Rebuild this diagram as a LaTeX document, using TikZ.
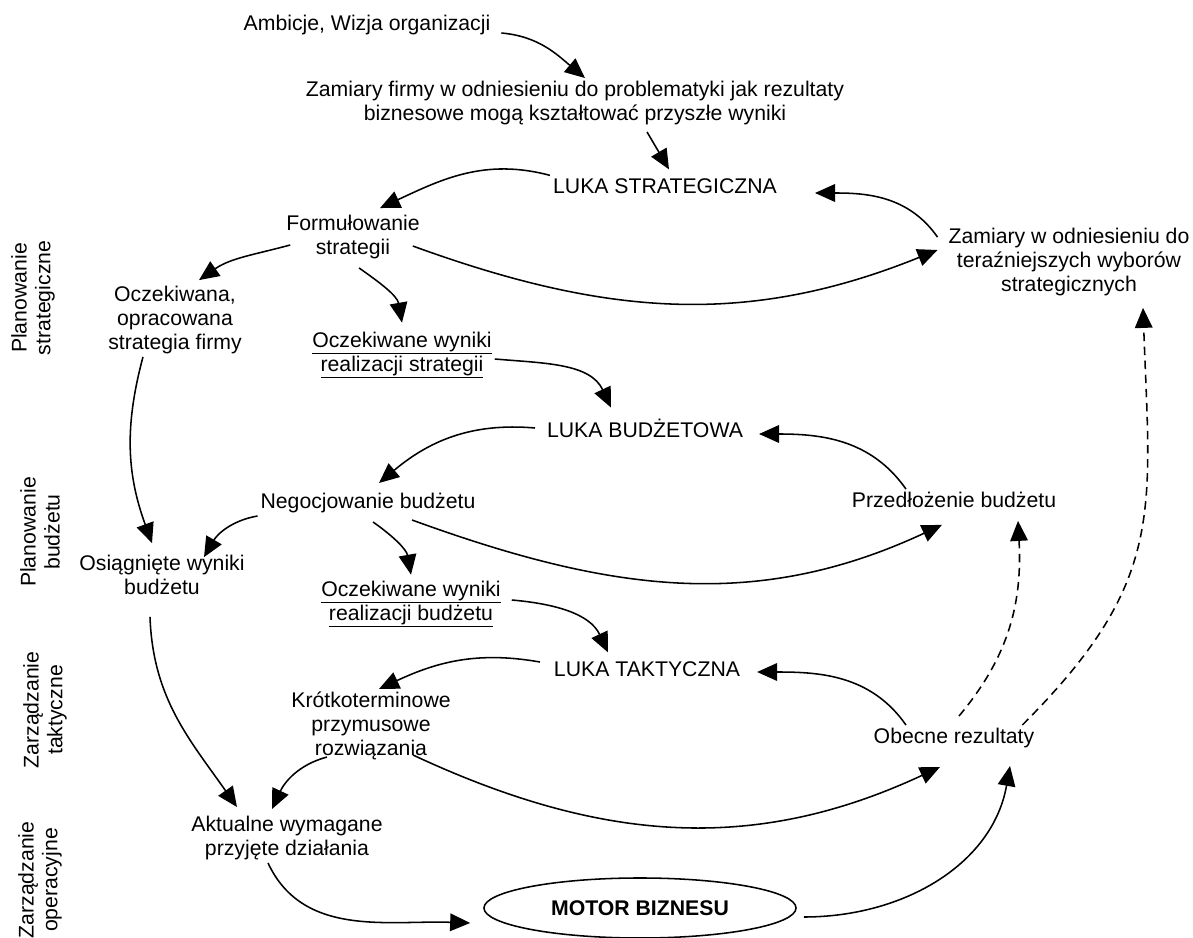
\documentclass[tikz,border=0pt]{standalone}
\usepackage{fontspec}
\setmainfont{Liberation Sans}
\usepackage{tikz}
\usetikzlibrary{shapes.geometric}
\usetikzlibrary{arrows.meta}

\begin{document}
\begin{tikzpicture}[
x=0.025cm, y=0.025cm,
every node/.style={font=\fontsize{15.1}{17}\selectfont},
plaintext/.style={align=center, inner sep=2pt},
sidelabel/.style={align=center, inner sep=2pt, rotate=90},
enginenode/.style={ellipse, draw=black, line width=1.1pt, minimum width=7.8cm, minimum height=1.5cm, inner sep=0pt, font=\fontsize{15.1}{17}\selectfont\bfseries},
link/.style={-{Triangle[length=5mm,width=4.4mm]}, line width=1.1pt},
dashedlink/.style={link, dash pattern=on 6pt off 4pt},
]
\useasboundingbox (0,0) rectangle (1193,-938);

%Nodes
\node[plaintext] (ambicje) at (367,-25) {Ambicje, Wizja organizacji};
\node[plaintext] (zamfirmy) at (575,-103) {Zamiary firmy w odniesieniu do problematyki jak rezultaty\\biznesowe mogą kształtować przyszłe wyniki};
\node[plaintext] (lukastrat) at (665,-186) {LUKA STRATEGICZNA};
\node[plaintext] (formulowanie) at (353,-237) {Formułowanie\\strategii};
\node[plaintext] (zamodn) at (1069,-262) {Zamiary w odniesieniu do\\teraźniejszych wyborów\\strategicznych};
\node[plaintext] (oczekiwana) at (175,-320) {Oczekiwana,\\opracowana\\strategia firmy};
\node[plaintext] (ocstrategii) at (402,-355) {\underline{Oczekiwane wyniki}\\\underline{realizacji strategii}};
\node[plaintext] (lukabudzet) at (645,-428) {LUKA BUDŻETOWA};
\node[plaintext] (negocjowanie) at (368,-503) {Negocjowanie budżetu};
\node[plaintext] (przedlozenie) at (954,-500) {Przedłożenie budżetu};
\node[plaintext] (osiagniete) at (162,-575) {Osiągnięte wyniki\\budżetu};
\node[plaintext] (ocbudzetu) at (411,-604) {\underline{Oczekiwane wyniki}\\\underline{realizacji budżetu}};
\node[plaintext] (lukataktyczna) at (647,-669) {LUKA TAKTYCZNA};
\node[plaintext] (krotkoterm) at (371,-726) {Krótkoterminowe\\przymusowe\\rozwiązania};
\node[plaintext] (obecne) at (954,-738) {Obecne rezultaty};
\node[plaintext] (aktualne) at (287,-838) {Aktualne wymagane\\przyjęte działania};
\node[enginenode] (motor) at (640,-908) {MOTOR BIZNESU};

\node[sidelabel] (planstrat) at (33,-298) {Planowanie\\strategiczne};
\node[sidelabel] (planbud) at (40,-532) {Planowanie\\budżetu};
\node[sidelabel] (zarztakt) at (45,-710) {Zarządzanie\\taktyczne};
\node[sidelabel] (zarzoper) at (40,-880) {Zarządzanie\\operacyjne};

%Lines
\draw[link] ([xshift=2mm,yshift=-2mm]ambicje.east) to[out=-5,in=140] ([xshift=2.5mm]zamfirmy.north);
\draw[link] ([xshift=18mm,yshift=-1mm]zamfirmy.south) -- ([xshift=1mm,yshift=1.5mm]lukastrat.north);
\draw[link] (lukastrat.north west) to[out=165,in=25] ([xshift=6.75mm,yshift=1mm]formulowanie.north);
\draw[link] ([xshift=-2mm,yshift=-3mm]zamodn.north west) to[out=125,in=0] ([xshift=8.75mm,yshift=-1.75mm]lukastrat.east);
\draw[link] ([xshift=-2.5mm,yshift=-2.25mm]formulowanie.east) to[out=-20,in=202] ([xshift=-2mm,yshift=3mm]zamodn.west);
\draw[link] ([xshift=1.75mm,yshift=-2mm]formulowanie.west) to[out=195,in=35] ([xshift=6mm,yshift=0.75mm]oczekiwana.north);
\draw[link] ([xshift=1.5mm,yshift=-1.5mm]formulowanie.south) to[out=-35,in=100] ([yshift=1.5mm]ocstrategii.north);
\draw[link] ([yshift=-1mm]ocstrategii.east) to[out=-5,in=115] ([xshift=-8.5mm,yshift=2mm]lukabudzet.north);
\draw[link] ([xshift=-2.25mm]lukabudzet.west) to[out=175,in=40] ([xshift=2.75mm,yshift=1.75mm]negocjowanie.north);
\draw[link] ([xshift=-12mm]przedlozenie.north) to[out=125,in=0] ([xshift=3.25mm,yshift=-1.5mm]lukabudzet.east);
\draw[link] ([xshift=11mm,yshift=-1mm]negocjowanie.south) to[out=-20,in=205] ([xshift=-3mm,yshift=-3.5mm]przedlozenie.south);
\draw[link] (negocjowanie.south west) to[out=190,in=60] ([xshift=10.5mm,yshift=-1.25mm]osiagniete.north);
\draw[link] ([xshift=1.25mm,yshift=-1.5mm]negocjowanie.south) to[out=-35,in=100] ([yshift=0.75mm]ocbudzetu.north);
\draw[link] ([xshift=-8mm]oczekiwana.south) to[out=-105,in=110] ([xshift=-2.5mm,yshift=2.25mm]osiagniete.north);
\draw[link] ([xshift=2mm,yshift=1mm]ocbudzetu.east) to[out=-5,in=115] ([xshift=-9.75mm,yshift=1.5mm]lukataktyczna.north);
\draw[link] ([xshift=-2.75mm,yshift=1.75mm]lukataktyczna.west) to[out=170,in=25] ([xshift=2mm]krotkoterm.north);
\draw[link] ([xshift=-12mm]obecne.north) to[out=125,in=0] ([xshift=3.5mm,yshift=-0.75mm]lukataktyczna.east);
\draw[link] ([xshift=10.5mm,yshift=2mm]krotkoterm.south) to[out=-25,in=205] ([xshift=-3.5mm,yshift=-4mm]obecne.south);
\draw[link] ([xshift=-11mm,yshift=1.5mm]krotkoterm.south) to[out=195,in=65] ([xshift=-3.75mm,yshift=1mm]aktualne.north);
\draw[link] ([xshift=-3mm,yshift=-4.75mm]osiagniete.south) to[out=-88,in=125] ([xshift=-12.5mm,yshift=1.5mm]aktualne.north);
\draw[link] ([xshift=-4.75mm]aktualne.south) to[out=-65,in=178] ([xshift=-3.25mm,yshift=-3.75mm]motor.west);
\draw[link] ([xshift=1.75mm,yshift=-2.25mm]motor.east) to[out=0,in=-100] ([xshift=14mm,yshift=-3.75mm]obecne.south);
\draw[dashedlink] ([xshift=1.25mm,yshift=2.25mm]obecne.north) to[out=50,in=-87] ([xshift=16mm,yshift=-2.5mm]przedlozenie.south);
\draw[dashedlink] ([xshift=-3.75mm]obecne.north east) to[out=45,in=-88,looseness=1.2] ([xshift=18.5mm,yshift=-2.25mm]zamodn.south);

\end{tikzpicture}
\end{document}
